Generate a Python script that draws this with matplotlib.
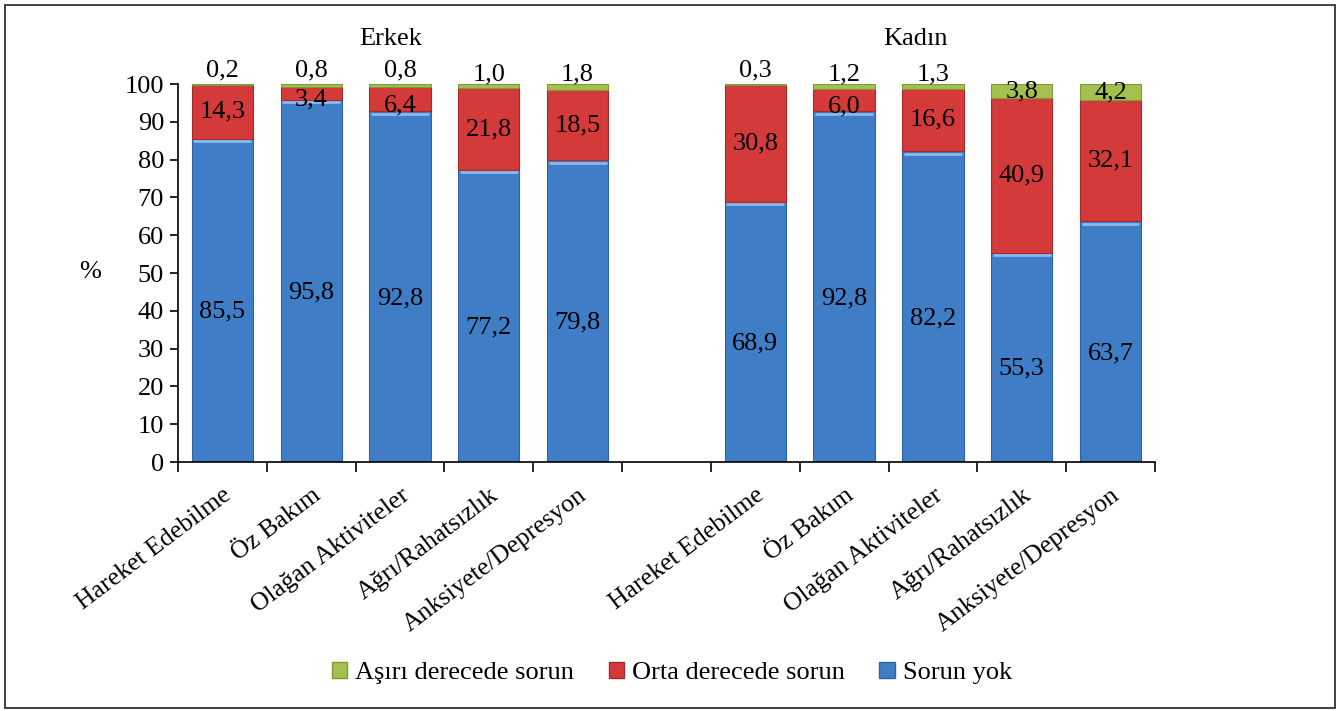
import matplotlib
matplotlib.use("Agg")
import matplotlib.pyplot as plt
from matplotlib.patches import Rectangle, Patch
import numpy as np

plt.rcParams['font.family'] = ['Liberation Serif', 'DejaVu Serif']

categories = ["Hareket Edebilme", "Öz Bakım", "Olağan Aktiviteler",
              "Ağrı/Rahatsızlık", "Anksiyete/Depresyon"]
groups = ["Erkek", "Kadın"]
sorun_yok_erkek = [85.5, 95.8, 92.8, 77.2, 79.8]
orta_erkek = [14.3, 3.4, 6.4, 21.8, 18.5]
asiri_erkek = [0.2, 0.8, 0.8, 1.0, 1.8]
sorun_yok_kadin = [68.9, 92.8, 82.2, 55.3, 63.7]
orta_kadin = [30.8, 6.0, 16.6, 40.9, 32.1]
asiri_kadin = [0.3, 1.2, 1.3, 3.8, 4.2]
series_names = ["Aşırı derecede sorun", "Orta derecede sorun", "Sorun yok"]
yticks = list(range(0, 101, 10))

c_blue = "#3F7DC6"
c_red = "#D43A3A"
c_green = "#A4C14F"

fig = plt.figure(figsize=(13.44, 7.11), dpi=100)
ax = fig.add_axes([0.1324, 0.3502, 0.727, 0.5316])

def fmt(v):
    return f"{v:.1f}".replace(".", ",")

pos_e = np.arange(5)
pos_k = np.arange(5) + 6
width = 0.69
fs = 19

for pos, sy, orta, asiri in [(pos_e, sorun_yok_erkek, orta_erkek, asiri_erkek),
                             (pos_k, sorun_yok_kadin, orta_kadin, asiri_kadin)]:
    sy = np.array(sy); orta = np.array(orta); asiri = np.array(asiri)
    ax.bar(pos, sy, width, color=c_blue, edgecolor="#2F64A3", linewidth=0.8)
    ax.bar(pos, orta, width, bottom=sy, color=c_red, edgecolor="#A82A2A", linewidth=0.8)
    ax.bar(pos, asiri, width, bottom=sy + orta, color=c_green, edgecolor="#7F9A3A", linewidth=0.8)
    # highlight line at top of blue segments
    for x, v in zip(pos, sy):
        ax.plot([x - width / 2 + 0.02, x + width / 2 - 0.02], [v - 0.6, v - 0.6],
                color="#8DB8E8", lw=2.0, solid_capstyle="butt")
    for x, a, b, c in zip(pos, sy, orta, asiri):
        ax.text(x, a / 2 - 3, fmt(a), ha="center", va="center", fontsize=fs)
        ym = a + b / 2
        if b < 8:
            ym = a + b / 2 - 1.6
        ax.text(x, ym, fmt(b), ha="center", va="center", fontsize=fs)
        if c < 3:
            yg = 103.6 if c < 1 else 102.6
        else:
            yg = a + b + c / 2
        ax.text(x, yg, fmt(c), ha="center", va="center", fontsize=fs, clip_on=False)

ax.set_xlim(-0.5, 10.5)
ax.set_ylim(0, 100)
ax.set_yticks(yticks)
ax.set_yticklabels([str(t) for t in yticks], fontsize=fs)
ax.set_xticks(np.arange(-0.5, 11.0, 1.0))
ax.set_xticklabels([])
ax.set_xticks(list(pos_e) + list(pos_k), minor=True)
ax.set_xticklabels(categories + categories, minor=True, rotation=37,
                   ha="right", va="top", rotation_mode="anchor", fontsize=18.5)
for lbl in ax.get_xticklabels(minor=True):
    lbl.set_x(lbl.get_position()[0])
ax.tick_params(axis="x", which="minor", length=0, pad=16)
ax.tick_params(axis="x", which="major", length=7, width=1.2, direction="out")
ax.tick_params(axis="y", length=6, width=1.2, direction="out", pad=4)
for s in ["top", "right"]:
    ax.spines[s].set_visible(False)
for s in ["left", "bottom"]:
    ax.spines[s].set_linewidth(1.2)

ax.text(1.9, 112, groups[0], ha="center", va="center", fontsize=fs)
ax.text(7.8, 112, groups[1], ha="center", va="center", fontsize=fs)
fig.text(90 / 1344, 1 - 272 / 711, "%", ha="center", va="center", fontsize=fs)

handles = [Patch(facecolor=c_green, edgecolor="#7F9A3A"),
           Patch(facecolor=c_red, edgecolor="#A82A2A"),
           Patch(facecolor=c_blue, edgecolor="#2F64A3")]
fig.legend(handles, series_names, loc="center", bbox_to_anchor=(672 / 1344, 1 - 673 / 711),
           ncol=3, frameon=False, fontsize=fs, handlelength=0.6, handleheight=0.6,
           handletextpad=0.3, columnspacing=1.3)

fig.patches.append(Rectangle((5 / 1344, 3 / 711), (1335 - 5) / 1344, (706 - 3) / 711,
                             transform=fig.transFigure, fill=False, edgecolor="#333333",
                             linewidth=1.3))

fig.savefig("out.png", dpi=100)
